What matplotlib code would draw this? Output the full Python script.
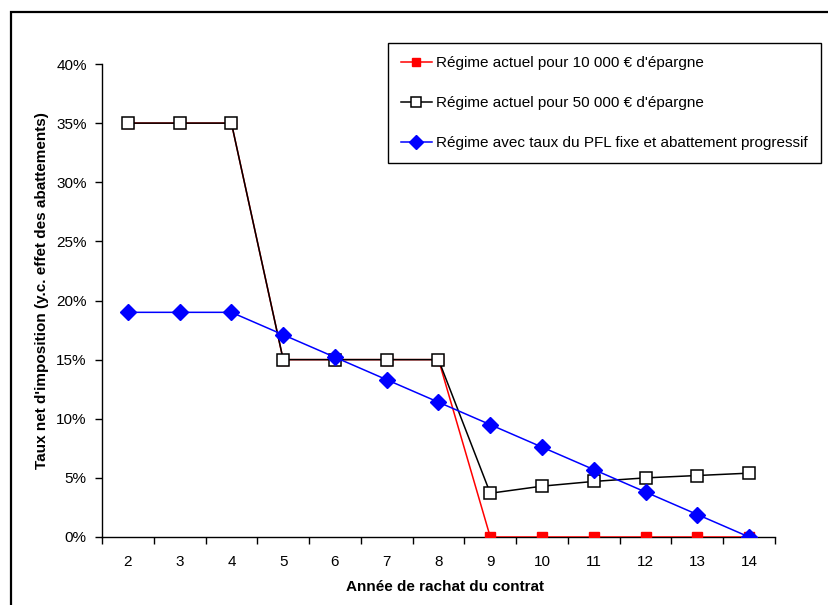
import numpy as np
import matplotlib
matplotlib.use('Agg')
import matplotlib.pyplot as plt
from matplotlib.patches import Rectangle
from matplotlib.ticker import FuncFormatter

plt.rcParams['font.family'] = ['Liberation Sans', 'DejaVu Sans']

years = [2, 3, 4, 5, 6, 7, 8, 9, 10, 11, 12, 13, 14]
regime_10k = [0.35, 0.35, 0.35, 0.15, 0.15, 0.15, 0.15, 0.0, 0.0, 0.0, 0.0, 0.0, 0.0]
regime_50k = [0.35, 0.35, 0.35, 0.15, 0.15, 0.15, 0.15, 0.037, 0.043, 0.047, 0.050, 0.052, 0.054]
regime_pfl = [0.19, 0.19, 0.19, 0.171, 0.152, 0.133, 0.114, 0.095, 0.076, 0.057, 0.038, 0.019, 0.0]

labels = ["Régime actuel pour 10 000 € d'épargne",
          "Régime actuel pour 50 000 € d'épargne",
          "Régime avec taux du PFL fixe et abattement progressif"]

W, H = 829, 605
fig = plt.figure(figsize=(W / 100, H / 100), dpi=100)
ax = fig.add_axes([102 / W, 1 - 537 / H, (775 - 102) / W, (537 - 64) / H])

# outer chart frame
fig.patches.append(Rectangle((11 / W, -0.1), 1.2, 1 - 12 / H + 0.1, transform=fig.transFigure,
                             fill=False, edgecolor='black', linewidth=1.6))

x = np.arange(len(years))
ax.plot(x, regime_10k, color='#ff0000', lw=1.1, marker='s', ms=6.5,
        mfc='#ff0000', mec='#ff0000', label=labels[0], zorder=3)
ax.plot(x, regime_50k, color='black', lw=1.1, marker='s', ms=8.5,
        mfc='white', mec='black', mew=1.1, label=labels[1], zorder=4)
ax.plot(x, regime_pfl, color='#0000ff', lw=1.1, marker='D', ms=8,
        mfc='#0000ff', mec='#0000ff', label=labels[2], zorder=5)

ax.set_xlim(-0.5, len(years) - 0.5)
ax.set_ylim(0, 0.4)
ax.set_yticks(np.arange(0, 0.41, 0.05))
ax.yaxis.set_major_formatter(FuncFormatter(lambda v, p: f"{v * 100:.0f}%"))
ax.set_xticks(x)
ax.set_xticklabels([str(y) for y in years])
ax.set_xticks(np.arange(-0.5, len(years), 1), minor=True)
ax.tick_params(axis='x', which='major', length=0, pad=13, labelsize=11)
ax.tick_params(axis='x', which='minor', length=5, width=1, direction='out')
ax.tick_params(axis='y', length=5, width=1, direction='out', pad=6, labelsize=11)

for s in ['top', 'right']:
    ax.spines[s].set_visible(False)
ax.spines['left'].set_linewidth(1)
ax.spines['bottom'].set_linewidth(1)

ax.set_xlabel("Année de rachat du contrat", fontsize=11, fontweight='bold')
ax.set_ylabel("Taux net d'imposition (y.c. effet des abattements)", fontsize=11,
              fontweight='bold')
ax.xaxis.set_label_coords(0.509, -0.091)
ax.yaxis.set_label_coords(-0.079, 0.522)

leg = ax.legend(loc='upper left', bbox_to_anchor=(388 / W, 1 - 43 / H),
                bbox_transform=fig.transFigure, borderaxespad=0, fontsize=11,
                frameon=True, fancybox=False, edgecolor='black', framealpha=1,
                handlelength=2.0, handletextpad=0.3, labelspacing=1.7,
                borderpad=0.85, markerscale=0.85)
leg.get_frame().set_linewidth(1)

fig.savefig('out.png', dpi=100)
